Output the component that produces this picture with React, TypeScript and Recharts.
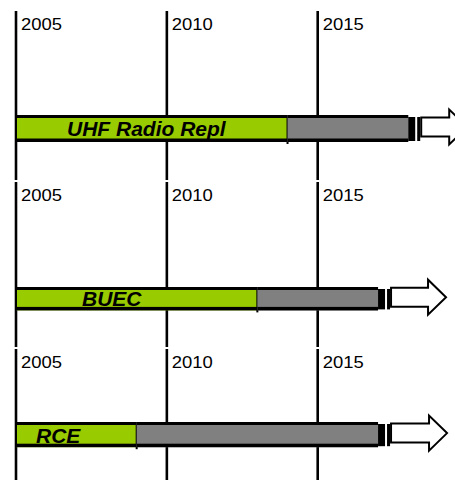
import React from 'react';
import { BarChart, Bar, XAxis, YAxis, CartesianGrid, LabelList } from 'recharts';

// ---- data ----
const startYear = 2005;
const programs = ['UHF Radio Repl', 'BUEC', 'RCE'];
const greenEnd = [2014, 2013, 2009];
const grayEnd = [2018, 2017, 2017];
const tickYears = [2005, 2010, 2015];

// ---- layout / style ----
const W = 455;
const LEFT = 16;
const PX_PER_YEAR = 30.17;
const DOMAIN_MAX = (W - LEFT) / PX_PER_YEAR;
const GREEN = '#99CC00';
const GRAY = '#808080';
const FONT = 'Arial, "Liberation Sans", Helvetica, sans-serif';

const panels = [
  { top: 11, height: 169, padTop: 102, padBottom: 37, barSize: 30, labelDx: 51, labelDy: 6, bodyEnd: 41 },
  { top: 182, height: 165, padTop: 104, padBottom: 35, barSize: 26, labelDx: 66, labelDy: 4, bodyEnd: 50 },
  { top: 349, height: 131, padTop: 72, padBottom: 31, barSize: 28, labelDx: 20, labelDy: 4, bodyEnd: 51 },
];

const YearTick = (props: any) => {
  const { x, payload } = props;
  return (
    <text x={x + 5} y={18.5} fontSize={17} fontFamily={FONT} fill="#000" textLength={41} lengthAdjust="spacingAndGlyphs">
      {String(payload.value + startYear)}
    </text>
  );
};

const GreenShape = (props: any) => {
  const { x, y, width, height } = props;
  return (
    <g>
      <rect x={x} y={y} width={width} height={height} fill={GREEN} />
      <rect x={x} y={y} width={width} height={3} fill="#000" />
      <rect x={x} y={y + height - 3.5} width={width} height={3.5} fill="#000" />
      <rect x={x - 1} y={y} width={2} height={height} fill="#000" />
      <rect x={x + width - 1} y={y} width={2} height={height + 2} fill="#000" />
    </g>
  );
};

const makeGrayShape = (bodyEnd: number) => (props: any) => {
  const { x, y, width, height } = props;
  const E = x + width;
  const cy = y + height / 2 - 1.5;
  const bh = 9.5;
  const hh = 17.5;
  const B = E + bodyEnd;
  const pts = [
    [E + 13, cy - bh],
    [B, cy - bh],
    [B, cy - hh],
    [B + 18, cy],
    [B, cy + hh],
    [B, cy + bh],
    [E + 13, cy + bh],
  ]
    .map((p) => p.join(','))
    .join(' ');
  return (
    <g>
      <rect x={x} y={y} width={width} height={height} fill={GRAY} />
      <rect x={x} y={y} width={width} height={3} fill="#000" />
      <rect x={x} y={y + height - 3.5} width={width} height={3.5} fill="#000" />
      <rect x={E} y={y + 2} width={7} height={height - 3} fill="#000" />
      <rect x={E + 9} y={y + 2} width={3} height={height - 3} fill="#000" />
      <polygon points={pts} fill="#fff" stroke="#000" strokeWidth={2} />
    </g>
  );
};

const makeLabel = (dx: number, dy: number) => (props: any) => {
  const { x, y, height, value } = props;
  return (
    <text
      x={x + dx}
      y={y + height - dy}
      fontSize={21}
      fontWeight="bold"
      fontStyle="italic"
      fontFamily={FONT}
      fill="#000"
    >
      {value}
    </text>
  );
};

const gridGenerator = (args: any) => {
  const xAxis = args && args.xAxis;
  if (xAxis && typeof xAxis.scale === 'function') {
    return tickYears.map((t) => xAxis.scale(t - startYear));
  }
  return tickYears.map((t) => LEFT + (t - startYear) * PX_PER_YEAR);
};

export default function App() {
  return (
    <div style={{ position: 'absolute', top: 0, left: 0, width: W, height: 480, background: '#fff', overflow: 'hidden' }}>
      {programs.map((name, i) => {
        const p = panels[i];
        const data = [
          {
            name,
            green: greenEnd[i] - startYear,
            gray: grayEnd[i] - greenEnd[i],
          },
        ];
        return (
          <div key={name} style={{ position: 'absolute', top: p.top, left: 0 }}>
            <BarChart
              width={W}
              height={p.height}
              data={data}
              layout="vertical"
              margin={{ top: 0, right: 0, bottom: 0, left: LEFT }}
              barCategoryGap={0}
            >
              <CartesianGrid
                horizontal={false}
                vertical={true}
                stroke="#000"
                strokeWidth={2.6}
                verticalCoordinatesGenerator={gridGenerator}
              />
              <XAxis
                type="number"
                orientation="top"
                mirror
                domain={[0, DOMAIN_MAX]}
                ticks={tickYears.map((t) => t - startYear)}
                allowDataOverflow
                axisLine={false}
                tickLine={false}
                tick={<YearTick />}
                interval={0}
              />
              <YAxis type="category" dataKey="name" hide padding={{ top: p.padTop, bottom: p.padBottom }} />
              <Bar dataKey="green" stackId="a" barSize={p.barSize} shape={GreenShape} isAnimationActive={false}>
                <LabelList dataKey="name" content={makeLabel(p.labelDx, p.labelDy)} />
              </Bar>
              <Bar dataKey="gray" stackId="a" barSize={p.barSize} shape={makeGrayShape(p.bodyEnd)} isAnimationActive={false} />
            </BarChart>
          </div>
        );
      })}
    </div>
  );
}
